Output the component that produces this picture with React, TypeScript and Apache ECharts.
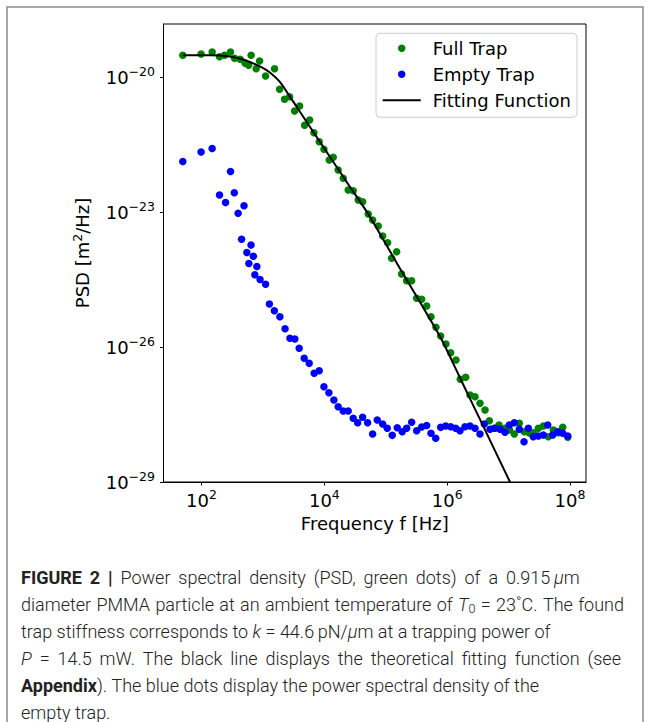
import React, { useEffect, useRef } from 'react';
import * as echarts from 'echarts';

// log10 of frequency [Hz] and log10 of PSD [m^2/Hz]
const fullTrapLogF = [1.695, 1.993, 2.173, 2.293, 2.375, 2.472, 2.538, 2.629, 2.710, 2.766, 2.808, 2.890, 2.945, 3.043, 3.189, 3.271, 3.352, 3.434, 3.515, 3.597, 3.678, 3.760, 3.830, 3.916, 3.993, 4.079, 4.144, 4.225, 4.307, 4.388, 4.470, 4.551, 4.623, 4.714, 4.786, 4.877, 4.949, 5.030, 5.095, 5.177, 5.258, 5.340, 5.421, 5.503, 5.584, 5.666, 5.736, 5.817, 5.894, 5.980, 6.057, 6.143, 6.213, 6.301, 6.371, 6.453, 6.534, 6.616, 6.686, 6.762, 6.844, 6.941, 7.015, 7.093, 7.174, 7.256, 7.337, 7.402, 7.484, 7.565, 7.647, 7.728, 7.810, 7.881, 7.963];
const fullTrapLogPSD = [-19.506, -19.477, -19.433, -19.537, -19.506, -19.433, -19.573, -19.595, -19.684, -19.729, -19.506, -19.804, -19.633, -19.967, -19.804, -20.263, -20.485, -20.427, -20.745, -20.634, -21.064, -20.946, -21.228, -21.429, -21.598, -21.836, -21.776, -22.058, -22.243, -22.503, -22.519, -22.726, -22.764, -23.037, -23.17, -23.304, -23.527, -23.676, -24.023, -23.876, -24.373, -24.522, -24.522, -24.913, -24.935, -25.085, -25.323, -25.559, -25.752, -25.930, -26.124, -26.286, -26.716, -26.671, -27.065, -27.103, -27.250, -27.399, -27.637, -27.806, -27.733, -27.806, -27.844, -27.933, -27.695, -27.881, -27.911, -27.903, -27.805, -27.754, -27.992, -27.843, -27.903, -27.784, -28.006];

const emptyTrapLogF = [1.695, 1.993, 2.173, 2.293, 2.391, 2.472, 2.534, 2.596, 2.652, 2.692, 2.738, 2.771, 2.806, 2.844, 2.868, 2.901, 2.953, 3.043, 3.105, 3.186, 3.276, 3.360, 3.439, 3.520, 3.590, 3.672, 3.753, 3.834, 3.916, 3.993, 4.074, 4.155, 4.225, 4.307, 4.388, 4.470, 4.542, 4.623, 4.704, 4.786, 4.861, 4.949, 5.024, 5.105, 5.187, 5.268, 5.340, 5.421, 5.503, 5.584, 5.666, 5.736, 5.813, 5.894, 5.975, 6.057, 6.138, 6.208, 6.290, 6.371, 6.453, 6.534, 6.604, 6.697, 6.778, 6.860, 6.941, 7.011, 7.093, 7.174, 7.251, 7.321, 7.402, 7.484, 7.565, 7.637, 7.718, 7.800, 7.881, 7.963];
const emptyTrapLogPSD = [-21.869, -21.658, -21.580, -22.615, -22.781, -22.092, -22.563, -23.022, -23.600, -22.853, -23.894, -24.139, -23.727, -23.979, -24.390, -24.206, -24.495, -24.602, -25.040, -25.189, -25.323, -25.590, -25.803, -25.819, -26.026, -26.248, -26.360, -26.582, -26.524, -26.880, -27.014, -27.176, -27.325, -27.421, -27.421, -27.583, -27.681, -27.561, -27.681, -27.933, -27.621, -27.710, -27.806, -27.962, -27.793, -27.882, -27.806, -27.672, -27.859, -27.777, -27.744, -27.917, -28.028, -27.784, -27.755, -27.770, -27.806, -27.859, -27.770, -27.755, -27.806, -27.933, -27.710, -27.828, -27.806, -27.828, -27.895, -27.733, -27.681, -27.828, -28.104, -27.806, -27.993, -27.977, -27.955, -27.733, -27.955, -27.882, -27.917, -27.977];

const fitLogF = [1.695, 2.135, 2.461, 2.705, 2.950, 3.113, 3.276, 3.439, 3.602, 3.764, 4.090, 4.416, 4.742, 5.231, 5.556, 5.899, 6.208, 6.534, 7.023];
const fitLogPSD = [-19.506, -19.506, -19.533, -19.611, -19.755, -19.889, -20.100, -20.427, -20.761, -21.095, -21.762, -22.430, -23.097, -24.250, -24.996, -25.803, -26.680, -27.608, -29.001];

const xTickExponents = [2, 4, 6, 8];
const yTickExponents = [-29, -26, -23, -20];
const xRange = [1.381, 8.26];
const yRange = [-29, -18.81];

const seriesNames = ['Full Trap', 'Empty Trap', 'Fitting Function'];

const captionLines = [
  '{b|FIGURE 2 |} Power spectral density (PSD, green dots) of a 0.915\u2009{i|\u03bc}m',
  'diameter PMMA particle at an ambient temperature of {i|T}{sub|0} = 23\u02daC. The found',
  'trap stiffness corresponds to {i|k} = 44.6\u2009pN/{i|\u03bc}m at a trapping power of',
  '{i|P} = 14.5 mW. The black line displays the theoretical fitting function (see',
  '{b|Appendix}). The blue dots display the power spectral density of the',
  'empty trap.',
];
const captionJustified = [true, true, false, true, false, false];

const FONT = 'DejaVu Sans';
const CAP_FONT = 'Roboto';
const CAP_SIZE = 18;

const tickRich = {
  b: { fontFamily: FONT, fontSize: 18, lineHeight: 24, color: '#000' },
  s: { fontFamily: FONT, fontSize: 12.5, lineHeight: 12, verticalAlign: 'top', color: '#000' },
};

const expText = (v: number) => String(v).replace('-', '\u2212');

const capStyles: Record<string, any> = {
  n: { fontFamily: CAP_FONT, fontSize: CAP_SIZE, fontWeight: 300, fontStyle: 'normal', fill: '#222', lineHeight: 22 },
  b: { fontFamily: CAP_FONT, fontSize: CAP_SIZE, fontWeight: 'bold', fontStyle: 'normal', fill: '#222', lineHeight: 22 },
  i: { fontFamily: CAP_FONT, fontSize: CAP_SIZE, fontWeight: 300, fontStyle: 'italic', fill: '#222', lineHeight: 22 },
  sub: { fontFamily: CAP_FONT, fontSize: 12.5, fontWeight: 300, fontStyle: 'normal', fill: '#222', lineHeight: 12, verticalAlign: 'bottom' },
};

function parseRich(s: string) {
  const out: { tag: string; text: string }[] = [];
  const re = /\{(\w+)\|([^}]*)\}/g;
  let last = 0;
  let m: RegExpExecArray | null;
  while ((m = re.exec(s))) {
    if (m.index > last) out.push({ tag: 'n', text: s.slice(last, m.index) });
    out.push({ tag: m[1], text: m[2] });
    last = re.lastIndex;
  }
  if (last < s.length) out.push({ tag: 'n', text: s.slice(last) });
  return out;
}

function justifyLine(s: string, target: number, justify: boolean, maxExtra: number) {
  const pieces = parseRich(s);
  const canvas = document.createElement('canvas');
  const ctx = canvas.getContext('2d');
  const fontOf = (tag: string) => {
    const st = capStyles[tag] || capStyles.n;
    return `${st.fontStyle} ${st.fontWeight} ${st.fontSize}px ${st.fontFamily}`;
  };
  let natural = 0;
  let spaces = 0;
  pieces.forEach((p) => {
    if (ctx) {
      ctx.font = fontOf(p.tag);
      natural += ctx.measureText(p.text).width;
    }
    spaces += p.text.split(' ').length - 1;
  });
  let spW = 0;
  if (ctx) {
    ctx.font = fontOf('n');
    spW = ctx.measureText(' ').width;
  }
  let width = spW;
  if (justify && ctx && spaces > 0 && natural < target) {
    width = spW + Math.min(maxExtra, (target - natural) / spaces);
  }
  const parts: string[] = [];
  pieces.forEach((p) => {
    const words = p.text.split(' ');
    words.forEach((w, k) => {
      if (k > 0) parts.push('{sp| }');
      if (w.length) parts.push(`{${p.tag}|${w}}`);
    });
  });
  return { text: parts.join(''), spaceWidth: width };
}

export default function App() {
  const ref = useRef<HTMLDivElement>(null);

  useEffect(() => {
    if (!ref.current) return;
    const chart = echarts.init(ref.current, undefined, { renderer: 'svg' });

    const pair = (xs: number[], ys: number[]) => xs.map((x, i) => [x, ys[i]]);

    const captionGraphics = captionLines.map((t, i) => {
      const j = justifyLine(t, 603, captionJustified[i], 3.5);
      return {
        type: 'text',
        x: 21,
        y: 577 + i * 27,
        silent: true,
        style: {
          text: j.text,
          fill: '#222',
          fontFamily: CAP_FONT,
          fontSize: CAP_SIZE,
          fontWeight: 300,
          lineHeight: 22,
          verticalAlign: 'middle',
          align: 'left',
          rich: {
            ...capStyles,
            sp: { ...capStyles.n, width: j.spaceWidth },
          },
        },
      };
    });

    chart.setOption({
      animation: false,
      grid: {
        left: 163.5,
        top: 24,
        width: 422.5,
        height: 458,
        show: true,
        borderColor: '#000',
        borderWidth: 1,
        backgroundColor: 'transparent',
        containLabel: false,
      },
      xAxis: {
        type: 'value',
        min: xRange[0],
        max: xRange[1],
        name: 'Frequency f [Hz]',
        nameLocation: 'middle',
        nameGap: 30,
        nameTextStyle: { fontFamily: FONT, fontSize: 18, color: '#000', lineHeight: 20 },
        axisLine: { show: true, lineStyle: { color: '#000', width: 1 } },
        axisTick: { show: true, inside: false, length: 3.5, customValues: xTickExponents, lineStyle: { color: '#000', width: 1 } },
        axisLabel: {
          customValues: xTickExponents,
          margin: 6,
          formatter: (v: number) => `{b|10}{s|${expText(v)}}`,
          rich: tickRich,
        },
        splitLine: { show: false },
      },
      yAxis: {
        type: 'value',
        min: yRange[0],
        max: yRange[1],
        name: 'PSD [m{s|2}/Hz]',
        nameLocation: 'middle',
        nameGap: 63,
        nameTextStyle: {
          fontFamily: FONT,
          fontSize: 18,
          color: '#000',
          lineHeight: 24,
          rich: {
            s: { fontFamily: FONT, fontSize: 12.5, lineHeight: 12, verticalAlign: 'top', color: '#000' },
          },
        },
        axisLine: { show: true, lineStyle: { color: '#000', width: 1 } },
        axisTick: { show: true, inside: false, length: 3.5, customValues: yTickExponents, lineStyle: { color: '#000', width: 1 } },
        axisLabel: {
          customValues: yTickExponents,
          margin: 8.5,
          formatter: (v: number) => `{b|10}{s|${expText(v)}}`,
          rich: tickRich,
        },
        splitLine: { show: false },
      },
      legend: {
        orient: 'vertical',
        left: 376,
        top: 33.3,
        padding: [6, 6, 8, 5.7],
        itemWidth: 38,
        itemHeight: 7.5,
        itemGap: 8,
        backgroundColor: 'rgba(255,255,255,0.8)',
        borderColor: '#cccccc',
        borderWidth: 1,
        borderRadius: 4,
        selectedMode: false,
        textStyle: { fontFamily: FONT, fontSize: 18, color: '#000', lineHeight: 18, padding: [0, 0, 0, 7] },
        data: [
          { name: seriesNames[0], icon: 'circle' },
          { name: seriesNames[1], icon: 'circle' },
          { name: seriesNames[2], itemStyle: { opacity: 0 }, lineStyle: { color: '#000', width: 2, opacity: 1 } },
        ],
      },
      series: [
        {
          name: seriesNames[0],
          type: 'scatter',
          data: pair(fullTrapLogF, fullTrapLogPSD),
          symbol: 'circle',
          symbolSize: 7.5,
          itemStyle: { color: '#008000', opacity: 1 },
          z: 2,
        },
        {
          name: seriesNames[1],
          type: 'scatter',
          data: pair(emptyTrapLogF, emptyTrapLogPSD),
          symbol: 'circle',
          symbolSize: 7.5,
          itemStyle: { color: '#0000ff', opacity: 1 },
          z: 3,
        },
        {
          name: seriesNames[2],
          type: 'line',
          data: pair(fitLogF, fitLogPSD),
          showSymbol: false,
          symbol: 'none',
          smooth: 0.2,
          clip: true,
          lineStyle: { color: '#000', width: 2 },
          itemStyle: { color: '#000' },
          z: 4,
        },
      ],
      graphic: [
        {
          type: 'rect',
          silent: true,
          shape: { x: 7, y: 7, width: 636, height: 740 },
          style: { fill: 'none', stroke: '#8c8c8c', lineWidth: 1.5 },
          z: -10,
        },
        ...captionGraphics,
      ],
    });

    return () => chart.dispose();
  }, []);

  return (
    <div
      ref={ref}
      style={{ position: 'absolute', left: 0, top: 0, width: 650, height: 722, background: '#fff' }}
    />
  );
}
